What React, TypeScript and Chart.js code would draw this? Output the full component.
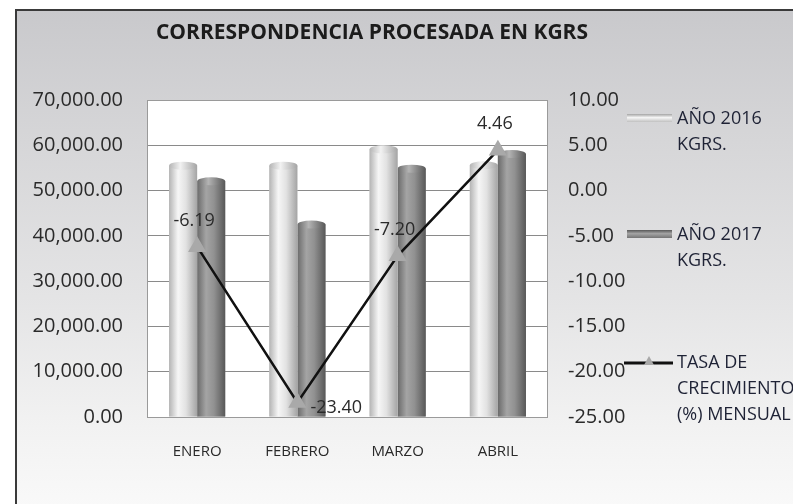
import { useEffect, useRef } from 'react';
import { Chart, registerables } from 'chart.js';

Chart.register(...registerables);

const TITLE = 'CORRESPONDENCIA PROCESADA EN KGRS';
const MONTHS = ['ENERO', 'FEBRERO', 'MARZO', 'ABRIL'];
const KGRS_2016 = [55500, 55500, 59100, 55600];
const KGRS_2017 = [52065, 42513, 54845, 58080];
const GROWTH = [-6.19, -23.4, -7.2, 4.46];
const SERIES_LABELS = ['AÑO 2016 KGRS.', 'AÑO 2017 KGRS.', 'TASA DE CRECIMIENTO (%) MENSUAL'];
const LEFT_MIN = 0;
const LEFT_MAX = 70000;
const LEFT_STEP = 10000;
const RIGHT_MIN = -25;
const RIGHT_MAX = 10;
const RIGHT_STEP = 5;

const FONT = "'Open Sans', 'Noto Sans', sans-serif";
const TEXT = '#2a2a2a';

const CYL = [
  { stops: ['#b4b4b4', '#f6f6f6', '#e2e2e2', '#a4a4a4'], cap: '#f2f2f2' },
  { stops: ['#6a6a6a', '#a4a4a4', '#919191', '#585858'], cap: '#b4b4b4' },
];

const plotBg = {
  id: 'plotBg',
  beforeDraw(chart: any) {
    const { ctx, chartArea: a } = chart;
    ctx.save();
    ctx.fillStyle = '#ffffff';
    ctx.fillRect(a.left, a.top, a.right - a.left, a.bottom - a.top);
    ctx.restore();
  },
  beforeDatasetsDraw(chart: any) {
    const { ctx, chartArea: a } = chart;
    ctx.save();
    ctx.strokeStyle = '#9a9a9a';
    ctx.lineWidth = 1;
    ctx.strokeRect(a.left + 0.5, a.top + 0.5, a.right - a.left - 1, a.bottom - a.top);
    ctx.restore();
  },
};

const cylinder = {
  id: 'cylinder',
  afterDatasetDraw(chart: any, args: any) {
    const meta = args.meta;
    if (meta.type !== 'bar') return;
    const style = CYL[args.index] || CYL[0];
    const ctx = chart.ctx;
    ctx.save();
    meta.data.forEach((el: any) => {
      const { x, y, base, width } = el.getProps(['x', 'y', 'base', 'width'], true);
      const left = x - width / 2;
      const g = ctx.createLinearGradient(left, 0, left + width, 0);
      g.addColorStop(0, style.stops[0]);
      g.addColorStop(0.32, style.stops[1]);
      g.addColorStop(0.6, style.stops[2]);
      g.addColorStop(1, style.stops[3]);
      ctx.fillStyle = g;
      ctx.fillRect(left, y, width, base - y);
      const cg = ctx.createLinearGradient(left, 0, left + width, 0);
      cg.addColorStop(0, style.stops[0]);
      cg.addColorStop(0.4, style.cap);
      cg.addColorStop(1, style.stops[3]);
      ctx.fillStyle = cg;
      ctx.beginPath();
      ctx.ellipse(x, y, width / 2, 4, 0, 0, Math.PI * 2);
      ctx.fill();
    });
    ctx.restore();
  },
};

const pointLabels = {
  id: 'pointLabels',
  afterDatasetsDraw(chart: any) {
    const ctx = chart.ctx;
    chart.data.datasets.forEach((ds: any, i: number) => {
      if (ds.type !== 'line') return;
      const meta = chart.getDatasetMeta(i);
      const vals = ds.data as number[];
      const minV = Math.min(...vals);
      ctx.save();
      ctx.font = `18px ${FONT}`;
      ctx.fillStyle = TEXT;
      ctx.textBaseline = 'middle';
      meta.data.forEach((el: any, j: number) => {
        const txt = vals[j].toFixed(2);
        if (vals[j] === minV) {
          ctx.textAlign = 'left';
          ctx.fillText(txt, el.x + 13, el.y + 5);
        } else {
          ctx.textAlign = 'center';
          ctx.fillText(txt, el.x - 3, el.y - 26);
        }
      });
      ctx.restore();
    });
  },
};

const titlePlugin = {
  id: 'titleText',
  afterDraw(chart: any) {
    const ctx = chart.ctx;
    ctx.save();
    ctx.font = `bold 21px ${FONT}`;
    ctx.fillStyle = '#1c1c1c';
    ctx.textAlign = 'center';
    ctx.textBaseline = 'middle';
    ctx.fillText(TITLE, 372, 33);
    ctx.restore();
  },
};

const ITEM_TOPS = [119, 235, 363];

const legendPlugin = {
  id: 'sideLegend',
  afterDraw(chart: any) {
    const ctx = chart.ctx;
    ctx.save();
    ctx.font = `18px ${FONT}`;
    ctx.textBaseline = 'middle';
    ctx.textAlign = 'left';
    chart.data.datasets.forEach((ds: any, i: number) => {
      const y0 = ITEM_TOPS[i];
      const words = String(ds.label).split(' ');
      const lines: string[] = [];
      let cur = '';
      words.forEach((w) => {
        const t = cur ? cur + ' ' + w : w;
        if (cur && ctx.measureText(t).width > 125) {
          lines.push(cur);
          cur = w;
        } else cur = t;
      });
      if (cur) lines.push(cur);
      ctx.fillStyle = '#1e2235';
      lines.forEach((ln, k) => {
        ctx.fillText(ln, 677, y0 + k * 26);
      });
      if (ds.type === 'bar') {
        const style = CYL[i] || CYL[0];
        const g = ctx.createLinearGradient(0, y0 - 5, 0, y0 + 4);
        g.addColorStop(0, style.stops[3]);
        g.addColorStop(0.4, style.stops[1]);
        g.addColorStop(1, style.stops[0]);
        ctx.fillStyle = g;
        ctx.fillRect(627, y0 - 5, 45, 8);
      } else {
        ctx.strokeStyle = '#111';
        ctx.lineWidth = 3;
        ctx.beginPath();
        ctx.moveTo(624, y0);
        ctx.lineTo(673, y0);
        ctx.stroke();
        ctx.fillStyle = '#a9a9a9';
        ctx.beginPath();
        ctx.moveTo(649, y0 - 7);
        ctx.lineTo(654, y0 + 2);
        ctx.lineTo(644, y0 + 2);
        ctx.closePath();
        ctx.fill();
      }
    });
    ctx.restore();
  },
};

export default function App() {
  const ref = useRef<HTMLCanvasElement | null>(null);
  useEffect(() => {
    if (!ref.current) return;
    const chart = new Chart(ref.current, {
      type: 'bar',
      data: {
        labels: MONTHS,
        datasets: [
          {
            type: 'bar',
            label: SERIES_LABELS[0],
            data: KGRS_2016,
            yAxisID: 'y',
            backgroundColor: '#dcdcdc',
            borderWidth: 0,
            categoryPercentage: 0.56,
            barPercentage: 1,
            order: 1,
          },
          {
            type: 'bar',
            label: SERIES_LABELS[1],
            data: KGRS_2017,
            yAxisID: 'y',
            backgroundColor: '#8c8c8c',
            borderWidth: 0,
            categoryPercentage: 0.56,
            barPercentage: 1,
            order: 1,
          },
          {
            type: 'line',
            label: SERIES_LABELS[2],
            data: GROWTH,
            yAxisID: 'y1',
            borderColor: '#111111',
            borderWidth: 2.5,
            pointStyle: 'triangle',
            pointRadius: 8,
            pointBackgroundColor: '#a9a9a9',
            pointBorderColor: '#a9a9a9',
            tension: 0,
            order: 0,
          } as any,
        ],
      },
      options: {
        responsive: false,
        animation: false,
        layout: { padding: { top: 100, left: 0, right: 0, bottom: 0 } },
        plugins: {
          legend: { display: false },
          title: { display: false },
          tooltip: { enabled: false },
        },
        scales: {
          x: {
            grid: { display: false, drawTicks: false },
            border: { display: false },
            ticks: { font: { family: FONT, size: 15 }, color: TEXT, padding: 26 },
            afterFit: (s: any) => { s.height = 87; },
          },
          y: {
            position: 'left',
            min: LEFT_MIN,
            max: LEFT_MAX,
            grid: { color: '#8a8a8a', lineWidth: 1, drawTicks: false },
            border: { display: false },
            ticks: {
              stepSize: LEFT_STEP,
              font: { family: FONT, size: 20 },
              color: TEXT,
              padding: 24,
              callback: (v: any) => Number(v).toLocaleString('en-US', { minimumFractionDigits: 2, maximumFractionDigits: 2 }),
            },
            afterFit: (s: any) => { s.width = 147; },
          },
          y1: {
            position: 'right',
            min: RIGHT_MIN,
            max: RIGHT_MAX,
            grid: { display: false, drawTicks: false },
            border: { display: false },
            ticks: {
              stepSize: RIGHT_STEP,
              font: { family: FONT, size: 20 },
              color: TEXT,
              padding: 20,
              callback: (v: any) => Number(v).toFixed(2),
            },
            afterFit: (s: any) => { s.width = 245; },
          },
        },
      },
      plugins: [plotBg, cylinder, pointLabels, titlePlugin, legendPlugin],
    } as any);
    return () => chart.destroy();
  }, []);

  return (
    <div style={{ position: 'fixed', left: 0, top: 0, width: 793, height: 504, overflow: 'hidden', background: '#ffffff' }}>
      <div
        style={{
          position: 'absolute',
          left: 15,
          top: 9,
          width: 820,
          height: 520,
          borderLeft: '2px solid #3a3a3a',
          borderTop: '2px solid #3a3a3a',
          background: 'linear-gradient(to bottom, #c9c9cc 0%, #d6d6d8 25%, #e4e4e5 55%, #f2f2f2 80%, #fbfbfb 100%)',
        }}
      />
      <canvas ref={ref} width={793} height={504} style={{ position: 'absolute', left: 0, top: 0 }} />
    </div>
  );
}
